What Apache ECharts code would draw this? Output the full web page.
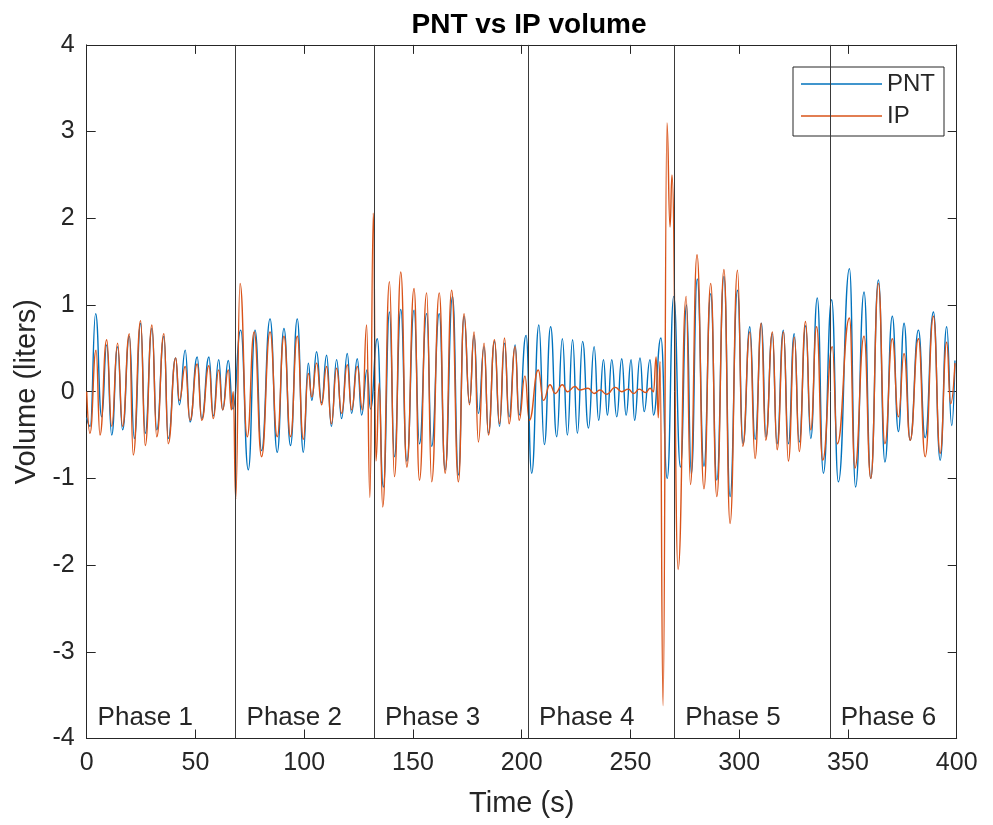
<!DOCTYPE html>
<html>
<head>
<meta charset="utf-8">
<script src="https://cdn.jsdelivr.net/npm/echarts@6/dist/echarts.min.js"></script>
<style>
html,body{margin:0;padding:0;background:#fff;}
#chart{width:993px;height:825px;}
</style>
</head>
<body>
<div id="chart"></div>
<script>
// PNT (pneumotachograph) volume: extrema
var pntTime = [0.0,1.6,4.1,6.9,9.2,11.5,14.2,16.5,19.6,21.9,24.8,26.9,30.0,32.2,35.5,37.5,40.9,42.6,45.3,47.5,50.8,52.9,56.2,58.2,60.7,62.5,65.1,67.2,
70.8,74.3,77.4,80.4,84.3,87.6,90.7,93.7,96.8,99.6,101.9,103.5,105.7,108.0,110.3,112.5,114.9,117.2,119.8,121.8,124.4,126.4,128.9,130.5,
133.6,136.4,139.2,141.5,144.4,147.2,150.5,153.0,156.3,158.6,162.1,164.8,168.2,170.9,173.5,176.0,178.1,180.1,182.7,184.7,187.5,189.8,192.1,194.2,197.0,198.8,202.0,
204.6,207.9,210.4,213.3,216.1,218.7,221.0,223.4,225.6,228.0,230.7,233.3,235.4,237.6,239.4,241.4,243.7,246.0,248.0,250.3,251.9,254.4,256.3,259.0,260.6,264.0,266.9,
269.9,273.0,275.8,278.0,280.7,283.8,286.9,289.7,293.0,295.8,299.2,301.8,304.9,307.3,310.3,312.3,315.2,317.4,320.3,322.6,325.3,327.6,330.6,332.9,335.9,338.7,
342.5,345.6,350.7,353.5,357.4,360.5,364.0,367.0,370.4,373.2,375.8,378.6,382.4,385.5,389.3,392.4,395.4,397.7,399.2];
var pntVolume = [-0.30,-0.40,0.90,-0.29,0.54,-0.50,0.52,-0.44,0.64,-0.54,0.79,-0.48,0.73,-0.44,0.64,-0.54,0.39,-0.15,0.48,-0.35,0.40,-0.31,0.40,-0.28,0.37,-0.21,0.36,-0.20,
0.71,-0.90,0.71,-0.68,0.84,-0.70,0.73,-0.62,0.84,-0.70,0.33,-0.10,0.46,-0.13,0.42,-0.40,0.37,-0.31,0.44,-0.25,0.38,-0.27,0.25,-0.20,
0.61,-1.10,0.92,-0.75,0.95,-0.80,0.94,-0.60,0.90,-0.63,0.90,-0.90,1.10,-0.96,0.87,-0.13,0.65,-0.25,0.52,-0.48,0.58,-0.40,0.56,-0.29,0.54,-0.27,0.65,
-0.94,0.77,-0.61,0.75,-0.52,0.61,-0.50,0.60,-0.48,0.58,-0.42,0.52,-0.33,0.37,-0.27,0.37,-0.29,0.38,-0.27,0.37,-0.33,0.39,-0.23,0.37,-0.27,0.62,-1.00,
1.10,-0.87,1.00,-0.95,1.30,-0.86,1.13,-1.02,1.33,-1.21,1.17,-0.60,0.75,-0.55,0.79,-0.52,0.67,-0.60,0.71,-0.60,0.67,-0.58,0.76,-0.54,1.08,-0.94,
1.06,-1.04,1.42,-1.10,1.15,-1.00,1.29,-0.81,0.87,-0.46,0.79,-0.56,0.71,-0.53,0.92,-0.79,0.75,-0.39,0.36];

// IP (impedance pneumography) volume: extrema
var ipTime = [0.0,1.5,4.3,6.1,9.2,11.5,14.2,16.5,19.6,21.4,24.8,26.9,30.0,32.2,35.5,37.5,40.9,42.6,45.3,47.5,50.8,52.9,56.2,58.2,60.7,62.5,65.1,66.5,67.4,68.5,
70.5,73.8,77.0,80.4,84.3,87.6,90.7,93.7,96.8,99.6,101.9,103.5,105.7,108.0,110.3,112.5,114.9,117.2,119.8,121.8,124.4,126.8,128.7,130.2,131.8,
133.0,134.5,136.1,139.2,141.5,144.4,147.2,150.5,153.0,156.3,158.6,162.1,164.8,167.8,170.9,173.5,176.0,178.1,180.1,182.7,184.7,187.5,189.8,192.1,194.2,197.0,198.8,201.5,
203.5,207.6,210.0,213.0,215.4,218.7,221.0,224.5,226.5,230.5,233.3,236.0,239.0,243.0,246.0,249.0,251.5,254.0,257.0,259.0,260.6,261.8,262.8,263.6,265.0,266.8,268.2,269.1,
271.9,275.6,277.6,280.6,283.8,286.9,289.7,293.0,295.8,299.2,301.6,304.9,307.3,310.1,312.2,315.3,317.4,320.4,322.6,325.4,327.6,330.5,332.9,335.6,338.4,
342.8,345.1,350.7,353.2,357.4,360.5,364.0,367.0,370.4,373.2,375.8,378.6,382.4,385.5,389.3,392.4,395.4,397.2,399.2];
var ipVolume = [0.00,-0.48,0.48,-0.50,0.60,-0.40,0.56,-0.40,0.67,-0.73,0.82,-0.62,0.77,-0.52,0.67,-0.60,0.39,-0.10,0.29,-0.33,0.32,-0.33,0.30,-0.31,0.25,-0.21,0.25,-0.21,0.00,-1.24,
1.25,-0.52,0.69,-0.75,0.69,-0.52,0.64,-0.52,0.64,-0.55,0.21,-0.06,0.33,-0.15,0.29,-0.37,0.27,-0.25,0.31,-0.21,0.29,-0.21,0.77,-1.22,2.06,
-0.80,0.10,-1.33,1.27,-0.98,1.38,-0.87,1.19,-1.02,1.14,-1.04,1.14,-0.94,1.17,-1.04,0.90,-0.15,0.69,-0.58,0.56,-0.50,0.60,-0.37,0.62,-0.37,0.52,-0.33,0.18,
-0.33,0.25,-0.10,0.08,-0.02,0.08,0.00,0.06,0.02,0.04,-0.02,0.02,-0.03,0.05,0.00,0.03,-0.02,0.03,-0.01,0.04,0.00,0.40,-0.30,0.35,-3.62,3.10,1.90,2.50,
-2.05,1.10,-1.07,1.58,-1.12,1.25,-1.21,1.41,-1.52,1.40,-0.63,0.69,-0.77,0.79,-0.56,0.69,-0.67,0.69,-0.80,0.63,-0.69,0.81,-0.44,0.75,-0.79,
0.52,-0.60,0.85,-0.88,0.64,-1.00,1.25,-0.60,0.61,-0.29,0.44,-0.56,0.61,-0.75,0.87,-0.71,0.57,-0.14,0.33];

// phase boundaries (s) and labels
var phaseStarts = [0, 68.5, 132.1, 203.0, 270.2, 341.7];
var phaseNames = ['Phase 1','Phase 2','Phase 3','Phase 4','Phase 5','Phase 6'];
var phaseLabelY = -3.76;

var xTicks = [0, 400, 50];
var yTicks = [-4, 4, 1];

function pairs(t, v){ return t.map(function(x,i){ return [x, v[i]]; }); }

var FONT = 'Liberation Sans, Arial, sans-serif';
var TXT = '#262626';
var AX = '#262626';

var chart = echarts.init(document.getElementById('chart'), null, {renderer:'canvas'});
function axisCommon(){
  return {
    axisLine:{show:true, onZero:false, lineStyle:{color:AX, width:1}},
    axisTick:{show:true, inside:true, length:9, lineStyle:{color:AX, width:1}},
    splitLine:{show:false}
  };
}
chart.setOption({
  animation:false,
  backgroundColor:'#fff',
  title:{text:'PNT vs IP volume', left:524, textAlign:'center', top:6,
    textStyle:{fontFamily:FONT, fontSize:28, fontWeight:'bold', color:'#000'}},
  grid:{left:86.7, right:36.3, top:44.9, bottom:86.5, containLabel:false},
  legend:{
    show:true, orient:'vertical', left:793, top:67,
    data:[{name:'PNT', icon:'rect'},{name:'IP', icon:'rect'}],
    itemWidth:81, itemHeight:1.5, itemGap:8,
    padding:[5,9,8,8],
    borderColor:'#262626', borderWidth:1, backgroundColor:'#fff',
    textStyle:{fontFamily:FONT, fontSize:24, color:TXT, lineHeight:24}
  },
  xAxis:[
    Object.assign({type:'value', min:xTicks[0], max:xTicks[1], interval:xTicks[2], position:'bottom',
      name:'Time (s)', nameLocation:'middle', nameGap:51,
      nameTextStyle:{fontFamily:FONT, fontSize:29, color:TXT},
      axisLabel:{fontFamily:FONT, fontSize:25, color:TXT, margin:12}}, axisCommon()),
    Object.assign({type:'value', min:xTicks[0], max:xTicks[1], interval:xTicks[2], position:'top',
      axisLabel:{show:false}}, axisCommon())
  ],
  yAxis:[
    Object.assign({type:'value', min:yTicks[0], max:yTicks[1], interval:yTicks[2], position:'left',
      name:'Volume (liters)', nameLocation:'middle', nameGap:40,
      nameTextStyle:{fontFamily:FONT, fontSize:29, color:TXT},
      axisLabel:{fontFamily:FONT, fontSize:25, color:TXT, margin:12}}, axisCommon()),
    Object.assign({type:'value', min:yTicks[0], max:yTicks[1], interval:yTicks[2], position:'right',
      axisLabel:{show:false}}, axisCommon())
  ],
  series:[
    {name:'PNT', type:'line', data:pairs(pntTime, pntVolume), showSymbol:false, symbol:'none',
      smooth:0.5, smoothMonotone:'x', clip:true,
      lineStyle:{color:'#0072BD', width:1.4}, itemStyle:{color:'#0072BD'}, z:2},
    {name:'IP', type:'line', data:pairs(ipTime, ipVolume), showSymbol:false, symbol:'none',
      smooth:0.5, smoothMonotone:'x', clip:true,
      lineStyle:{color:'#D95319', width:1.4}, itemStyle:{color:'#D95319'}, z:3,
      markLine:{silent:true, symbol:['none','none'], label:{show:false},
        lineStyle:{color:'#3a3a3a', width:1, type:'solid'},
        data:phaseStarts.slice(1).map(function(x){ return {xAxis:x}; })}},
    {name:'phases', type:'scatter', symbolSize:0, silent:true, z:5,
      itemStyle:{opacity:1, color:TXT},
      data:phaseStarts.map(function(x,i){ return {name:phaseNames[i], value:[x+5, phaseLabelY]}; }),
      label:{show:true, position:'right', distance:0, formatter:function(p){return p.name;},
        fontFamily:FONT, fontSize:26, color:TXT, opacity:1}}
  ]
});
</script>
</body>
</html>
